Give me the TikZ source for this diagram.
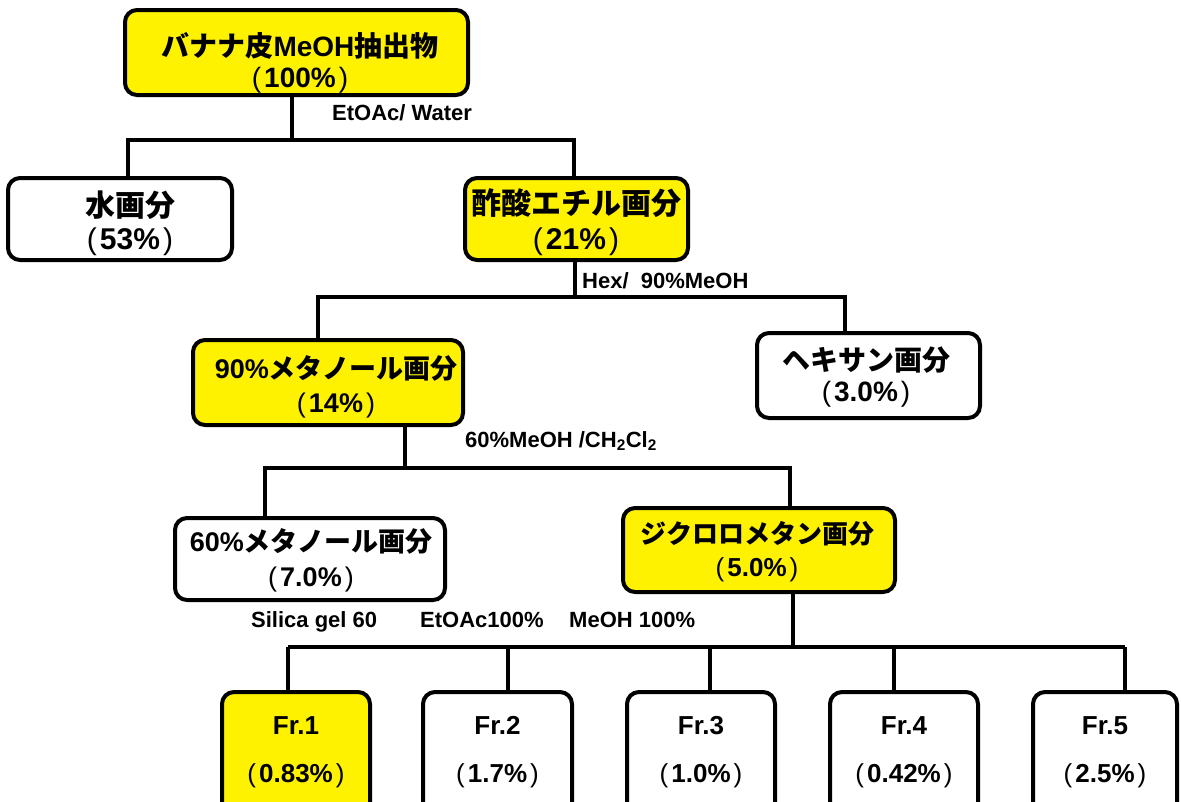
\documentclass[tikz,border=0pt]{standalone}
\usepackage{fontspec}
\setmainfont{Liberation Sans}
\newfontfamily\jp{Noto Sans CJK JP}
\newcommand\myparen[1]{{\mdseries(}\hspace{3pt}#1\hspace{3pt}{\mdseries)}}
\begin{document}
\begin{tikzpicture}[x=1pt,y=-1pt,
  box/.style={draw=black, line width=4pt, rounded corners=12pt, inner sep=0pt},
  ybox/.style={box, fill=yellow},
  wbox/.style={box, fill=white},
  txt/.style={font=\bfseries\fontsize{28}{33}\selectfont, align=center, inner sep=0pt},
  ftxt/.style={font=\bfseries\fontsize{26}{48}\selectfont, align=center, inner sep=0pt},
  lab/.style={font=\bfseries\fontsize{22}{24}\selectfont, anchor=base west, inner sep=0pt},
  ln/.style={line width=4pt}]
\useasboundingbox (0,0) rectangle (1181,801);
\clip (0,0) rectangle (1181,801);
\fill[white] (0,0) rectangle (1181,801);

% boxes
\node[ybox, minimum width=343pt, minimum height=85pt] (top) at (296.5,52.5) {};
\node[wbox, minimum width=224pt, minimum height=82pt] (water) at (120,219) {};
\node[ybox, minimum width=223pt, minimum height=82pt] (ethyl) at (576.5,219) {};
\node[ybox, minimum width=270pt, minimum height=85pt] (m90) at (328,382.5) {};
\node[wbox, minimum width=223pt, minimum height=85pt] (hex) at (868.5,375.5) {};
\node[wbox, minimum width=270pt, minimum height=82pt] (m60) at (310,559) {};
\node[ybox, minimum width=272pt, minimum height=84pt] (dcm) at (759,550) {};
\node[ybox, minimum width=148pt, minimum height=130pt] (f1) at (296,757) {};
\node[wbox, minimum width=149pt, minimum height=130pt] (f2) at (497.5,757) {};
\node[wbox, minimum width=148pt, minimum height=130pt] (f3) at (701,757) {};
\node[wbox, minimum width=148pt, minimum height=130pt] (f4) at (904,757) {};
\node[wbox, minimum width=144pt, minimum height=130pt] (f5) at (1105,757) {};

% texts
\node[txt, font=\bfseries\fontsize{28}{31}\selectfont] (topt) at (300,62.5) {{\jp バナナ皮}MeOH{\jp 抽出物}\\\myparen{100\%}};
\node[txt, font=\bfseries\fontsize{30}{33}\selectfont] (watert) at (130,223.5) {{\jp 水画分}\\\myparen{53\%}};
\node[txt, font=\bfseries\fontsize{30}{35}\selectfont] (ethylt) at (576,222.5) {{\jp 酢酸エチル画分}\\\myparen{21\%}};
\node[txt, font=\bfseries\fontsize{27}{34}\selectfont] (m90t) at (336,387) {90\%{\jp メタノール画分}\\\myparen{14\%}};
\node[txt, font=\bfseries\fontsize{28}{31}\selectfont] (hext) at (866,377.5) {{\jp ヘキサン画分}\\\myparen{3.0\%}};
\node[txt, font=\bfseries\fontsize{27}{35}\selectfont] (m60t) at (311,560.5) {60\%{\jp メタノール画分}\\\myparen{7.0\%}};
\node[txt, font=\bfseries\fontsize{26}{33}\selectfont] (dcmt) at (757,551.5) {{\jp ジクロロメタン画分}\\\myparen{5.0\%}};
\node[ftxt] (f1t) at (296,752) {Fr.1\\\myparen{0.83\%}};
\node[ftxt] (f2t) at (497.5,752) {Fr.2\\\myparen{1.7\%}};
\node[ftxt] (f3t) at (701,752) {Fr.3\\\myparen{1.0\%}};
\node[ftxt] (f4t) at (904,752) {Fr.4\\\myparen{0.42\%}};
\node[ftxt] (f5t) at (1105,752) {Fr.5\\\myparen{2.5\%}};

% labels
\node[lab] (l1) at (332,120.5) {EtOAc/ Water};
\node[lab] (l2) at (582,288.5) {Hex/\ \ 90\%MeOH};
\node[lab] (l3) at (465,447) {60\%MeOH /CH\textsubscript{2}Cl\textsubscript{2}};
\node[lab] (l4) at (251,627) {Silica gel 60};
\node[lab] (l5) at (420,627) {EtOAc100\%};
\node[lab] (l6) at (569,627) {MeOH 100\%};

% junction coordinates
\coordinate (a0) at (292,140);
\coordinate (a1) at (128,140);
\coordinate (a2) at (574,140);
\coordinate (b0) at (575,297);
\coordinate (b1) at (318,297);
\coordinate (b2) at (845,297);
\coordinate (c0) at (405,468);
\coordinate (c1) at (265,468);
\coordinate (c2) at (790,468);
\coordinate (d0) at (793,647);
\coordinate (d1) at (288,647);
\coordinate (d2) at (508,647);
\coordinate (d3) at (710,647);
\coordinate (d4) at (894,647);
\coordinate (d5) at (1125,647);

% connectors
\draw[ln] (a0 |- top.south) -- (a0);
\draw[ln] (a1 |- water.north) -- (a1) -- (a2) -- (a2 |- ethyl.north);
\draw[ln] (b0 |- ethyl.south) -- (b0);
\draw[ln] (b1 |- m90.north) -- (b1) -- (b2) -- (b2 |- hex.north);
\draw[ln] (c0 |- m90.south) -- (c0);
\draw[ln] (c1 |- m60.north) -- (c1) -- (c2) -- (c2 |- dcm.north);
\draw[ln] (d0 |- dcm.south) -- (d0);
\draw[ln] (d1) -- (d5);
\draw[ln] (d1) -- (d1 |- f1.north);
\draw[ln] (d2) -- (d2 |- f2.north);
\draw[ln] (d3) -- (d3 |- f3.north);
\draw[ln] (d4) -- (d4 |- f4.north);
\draw[ln] (d5) -- (d5 |- f5.north);
\end{tikzpicture}
\end{document}
